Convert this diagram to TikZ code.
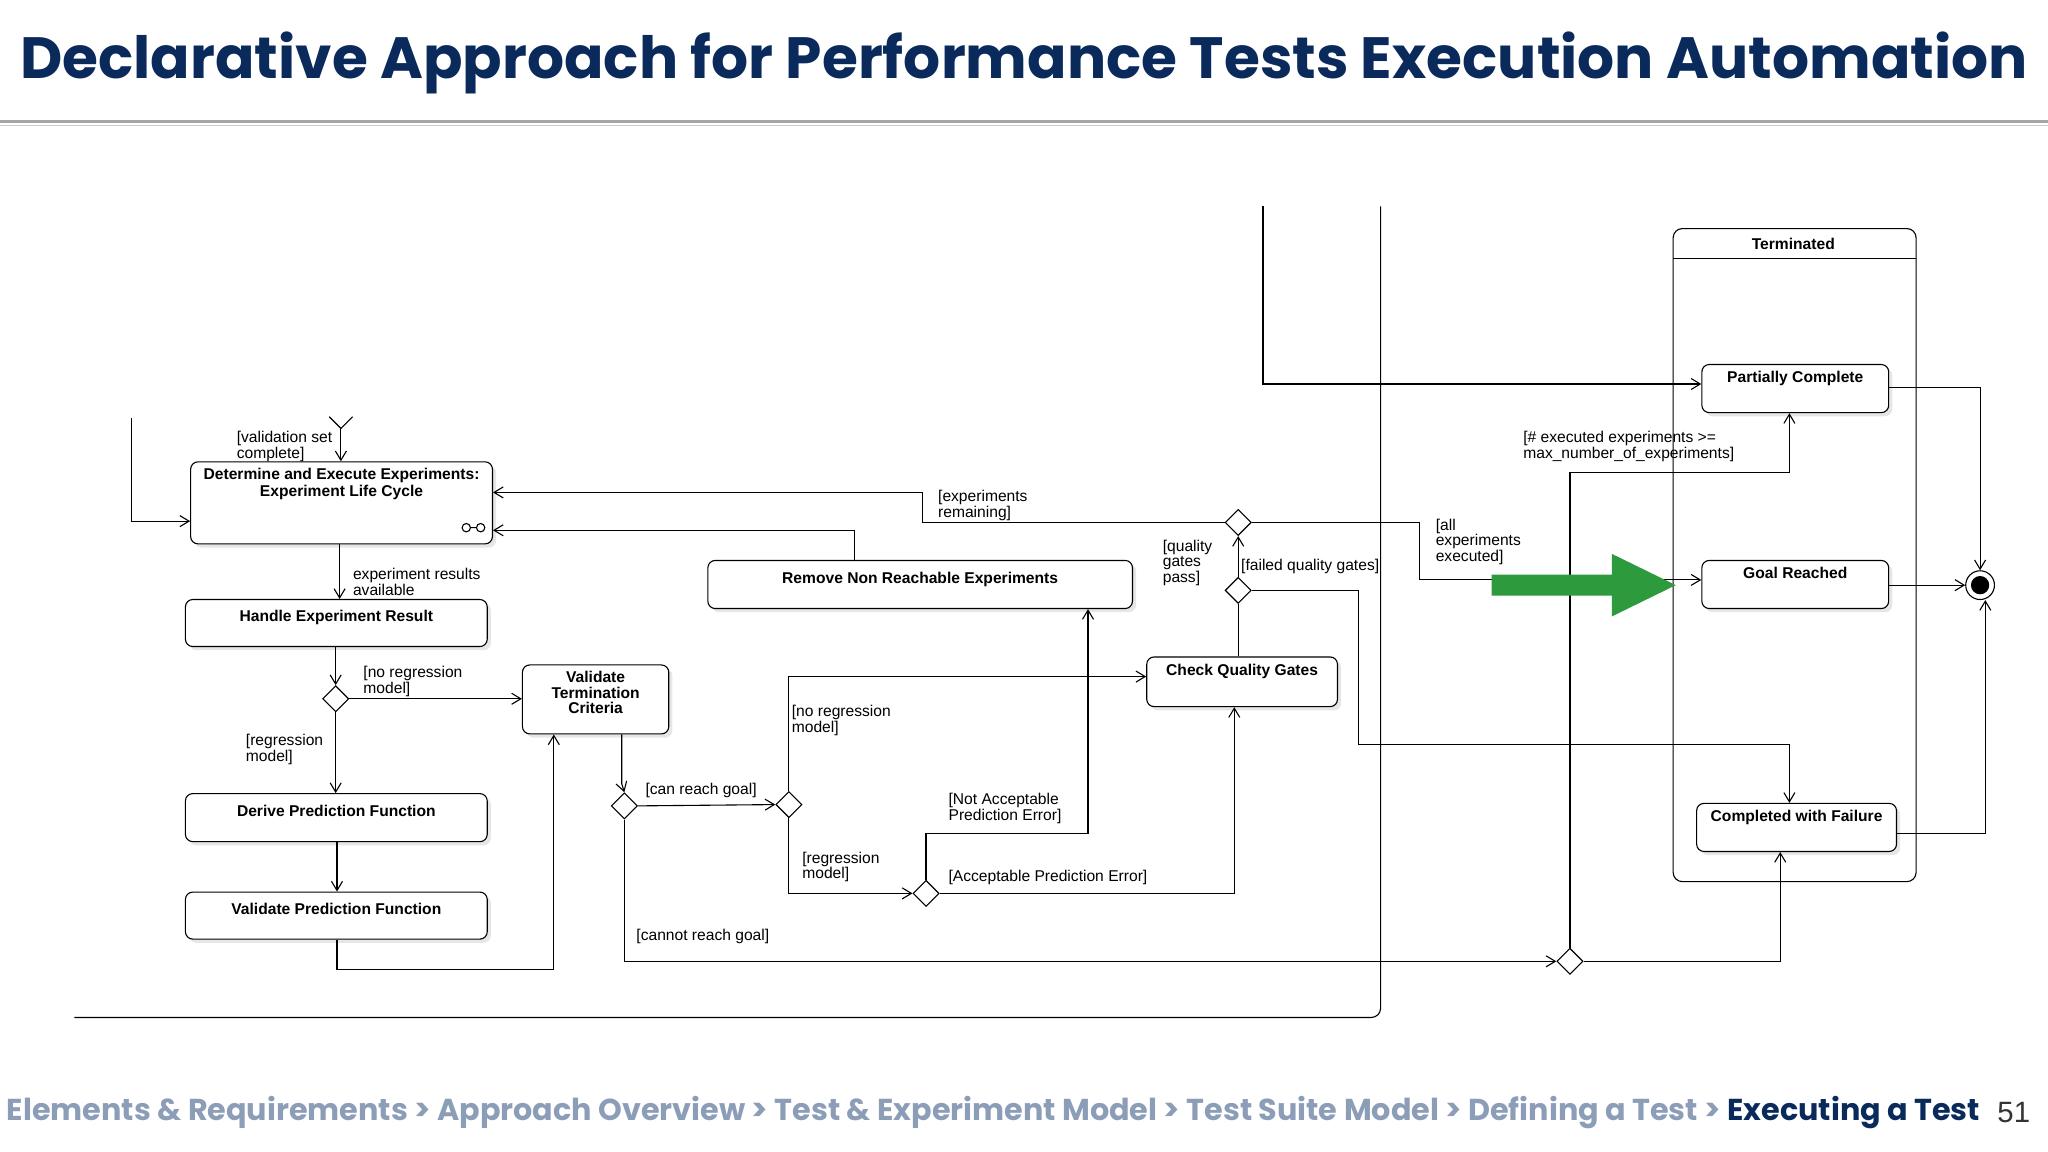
\documentclass[tikz,border=0pt]{standalone}
\usepackage{fontspec}
\setmainfont{Liberation Sans}
\newfontfamily\titlefont{Poppins}
\usetikzlibrary{arrows.meta,shapes.geometric,shadows}
\definecolor{navy}{HTML}{0B2A5C}
\definecolor{crumb}{HTML}{8C9DB8}
\definecolor{garrow}{HTML}{2E9A3E}
\begin{document}
\begin{tikzpicture}[x=0.025cm,y=-0.025cm,
  every node/.style={font=\fontsize{8.5}{9.5}\selectfont},
  box/.style={draw,rounded corners=4pt,fill=white,line width=0.6pt,font=\fontsize{8.5}{9.5}\selectfont\bfseries,align=center,
    drop shadow={opacity=0.2,shadow xshift=2pt,shadow yshift=-2pt}},
  dec/.style={draw,diamond,fill=white,minimum width=0.5cm,minimum height=0.5cm,inner sep=0pt,line width=0.6pt},
  lab/.style={anchor=north west,align=left,inner sep=0pt,font=\fontsize{8.5}{8.5}\selectfont},
  ln/.style={line width=0.6pt},
  ar/.style={ln,-{Straight Barb[length=5pt,width=6pt]}}]
\useasboundingbox (0,0) rectangle (1568,882);
% title
\node[anchor=center,text=navy,inner sep=0pt] (title) at (784,48) {\resizebox{38.4cm}{!}{\titlefont\bfseries Declarative Approach for Performance Tests Execution Automation}};
\draw[gray!70,line width=1.2pt] (0,93) -- (1568,93);
\draw[gray!40,line width=0.8pt] (0,96) -- (1568,96);
% breadcrumb
\node[anchor=west,inner sep=0pt] (crumb) at (5,852) {\resizebox{37.75cm}{!}{\titlefont\bfseries\color{crumb}Elements \& Requirements \textgreater{} Approach Overview \textgreater{} Test \& Experiment Model \textgreater{} Test Suite Model \textgreater{} Defining a Test \textgreater{} \color{navy}Executing a Test}};
\node[anchor=west,inner sep=0pt,font=\fontsize{16}{16}\selectfont,text=black!80] (pg) at (1529,852) {51};
% container
\draw[ln,rounded corners=5pt] (1281,175) rectangle (1467,675);
\draw[ln] (1281,198) -- (1467,198);
\node[font=\fontsize{8.5}{9.5}\selectfont\bfseries] (term) at (1373,187) {Terminated};
% boxes
\node[box,minimum width=5.775cm,minimum height=1.55cm] (det) at (261.5,385) {Determine and Execute Experiments:\\Experiment Life Cycle\\[10pt]\strut};
\node[box,minimum width=5.775cm,minimum height=0.9cm] (her) at (257.5,477) {Handle Experiment Result\\[-2pt]};
\node[box,minimum width=5.775cm,minimum height=0.92cm] (dpf) at (257.5,626) {Derive Prediction Function\\[-2pt]};
\node[box,minimum width=5.775cm,minimum height=0.9cm] (vpf) at (257.5,701) {Validate Prediction Function\\[-2pt]};
\node[box,minimum width=2.8cm,minimum height=1.32cm] (vtc) at (456,535.5) {Validate\\[-1pt]Termination\\[-1pt]Criteria\\[-2pt]};
\node[box,minimum width=8.125cm,minimum height=0.92cm] (rne) at (704.5,447.5) {Remove Non Reachable Experiments\\[-2pt]};
\node[box,minimum width=3.65cm,minimum height=0.95cm] (cqg) at (951,522) {Check Quality Gates\\[3pt]};
\node[box,minimum width=3.575cm,minimum height=0.92cm] (pc) at (1374.5,297.5) {Partially Complete\\[3pt]};
\node[box,minimum width=3.575cm,minimum height=0.92cm] (gr) at (1374.5,447.5) {Goal Reached\\[3pt]};
\node[box,minimum width=3.825cm,minimum height=0.92cm] (cf) at (1375.5,633.5) {Completed with Failure\\[3pt]};
% fork icon
\draw[ln] (357,404) circle (3.2) (368,404) circle (3.2) (360.2,404) -- (364.8,404);
% final node
\node[draw,circle,minimum size=0.55cm,inner sep=0pt,line width=0.6pt] (fin) at (1516,448) {};
\fill (fin) circle (7);
% decisions
\node[dec] (d1) at (257,535) {};
\node[dec] (d2) at (478,617) {};
\node[dec] (d3) at (604,616) {};
\node[dec] (d4) at (709,684) {};
\node[dec] (d6) at (948,400) {};
\node[dec] (d5) at (948,452) {};
\node[dec] (d7) at (1202,736) {};
% coordinates for free ends
\coordinate (s1) at (101,320);
\coordinate (s2) at (261,328);
\coordinate (s3) at (967,158);
\coordinate (s4) at (1057,158);
\coordinate (s5) at (57,779);
% connectors
\draw[ar] (s1) |- (det.west |- 0,399);
\draw[ln] (252,319) -- (s2) -- (270,319);
\draw[ar] (s2) -- (det.north -| s2);
\draw[ar] (det.south -| 260,0) -- (her.north -| 260,0);
\draw[ar] (her.south -| d1) -- (d1.north);
\draw[ar] (d1.east) -- (vtc.west |- d1);
\draw[ar] (d1.south) -- (dpf.north -| d1);
\draw[ar] (dpf.south -| 258,0) -- (vpf.north -| 258,0);
\draw[ar] (vpf.south -| 258,0) |- (340,742) -| (vtc.south -| 424,0);
\draw[ar] (vtc.south -| 476,0) -- (476,600) -- (d2.north);
\draw[ar] (d2.east) -- (d3.west);
\draw[ar] (d2.south) |- (d7.west);
\draw[ar] (d3.north) |- (cqg.west |- 0,518);
\draw[ar] (d3.south) |- (d4.west);
\draw[ar] (d4.north) |- (780,638) -| (rne.south -| 833,0);
\draw[ar] (d4.east) -| (cqg.south -| 945,0);
\draw[ln] (cqg.north -| d5) -- (d5.south);
\draw[ar] (d5.north) -- (d6.south);
\draw[ar] (d5.east) -| (1040,570) -| (cf.north -| 1370,0);
\draw[ar] (d6.west) -| (706,377) -- (det.east |- 0,377);
\draw[ar] (d6.east) -| (1087,444) -- (gr.west |- 0,444);
\draw[ar] (rne.north -| 654,0) |- (det.east |- 0,406);
\draw[ar] (d7.north) |- (1300,362) -| (pc.south -| 1370,0);
\draw[ar] (d7.east) -| (cf.south -| 1363,0);
\draw[ar] (s3) |- (pc.west |- 0,294);
\draw[ln,rounded corners=5pt] (s4) |- (s5);
\draw[ar] (pc.east |- 0,297) -| (fin.north);
\draw[ar] (gr.east |- fin) -- (fin.west);
\draw[ar] (cf.east |- 0,638) -| (fin.south -| 1520,0);
% green arrow
\fill[garrow] (1142,440) -- (1234,440) -- (1234,424) -- (1283,448) -- (1234,472) -- (1234,456) -- (1142,456) -- cycle;
% labels
\node[lab] (l1) at (181,330) {[validation set\\complete]};
\node[lab] (l2) at (270,435) {experiment results\\available};
\node[lab] (l3) at (278,510) {[no regression\\model]};
\node[lab] (l4) at (188,562) {[regression\\model]};
\node[lab] (l5) at (494,599) {[can reach goal]};
\node[lab] (l6) at (487,711) {[cannot reach goal]};
\node[lab] (l7) at (606,540) {[no regression\\model]};
\node[lab] (l8) at (614,652) {[regression\\model]};
\node[lab] (l9) at (726,607) {[Not Acceptable\\Prediction Error]};
\node[lab] (l10) at (726,666) {[Acceptable Prediction Error]};
\node[lab] (l11) at (890,413) {[quality\\gates\\pass]};
\node[lab] (l12) at (950,428) {[failed quality gates]};
\node[lab] (l13) at (718,375) {[experiments\\remaining]};
\node[lab] (l14) at (1099,397) {[all\\experiments\\executed]};
\node[lab] (l15) at (1166,330) {[\# executed experiments >=\\max\_number\_of\_experiments]};
\end{tikzpicture}
\end{document}
